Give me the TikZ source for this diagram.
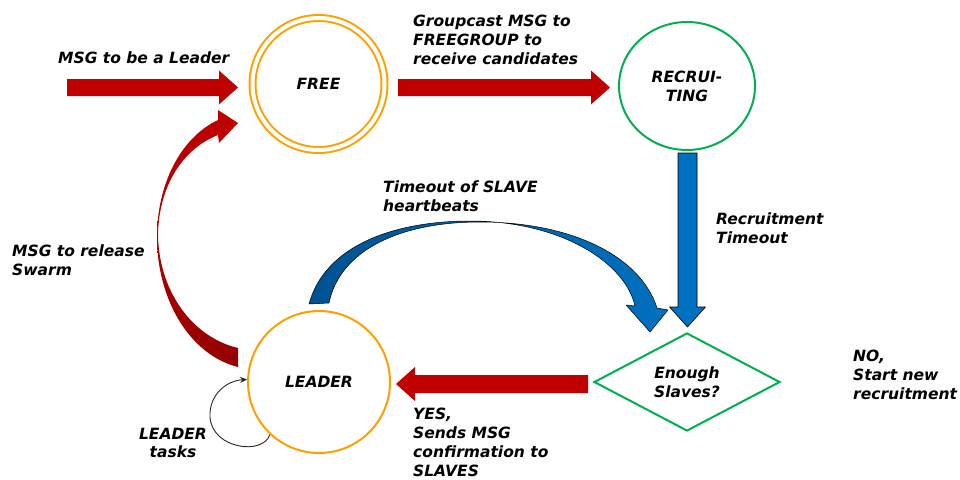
\documentclass[tikz,border=0pt]{standalone}
\usepackage{fontspec}
\setmainfont{DejaVu Sans}
\usetikzlibrary{shapes.geometric,calc,arrows.meta}

\definecolor{ringorange}{RGB}{255,160,0}
\definecolor{ringgreen}{RGB}{0,176,80}
\definecolor{msgred}{RGB}{192,0,0}
\definecolor{msgreddark}{RGB}{150,0,0}
\definecolor{flowblue}{RGB}{0,112,192}
\definecolor{flowbluedark}{RGB}{0,82,145}

% straight block arrow: [style]{start}{tip}{half shaft}{half head}{head length}
\newcommand\fatarrow[6][]{%
  \coordinate (fa-s) at #2;
  \coordinate (fa-e) at #3;
  \coordinate (fa-b) at ($(fa-e)!#6!(fa-s)$);
  \path[#1] ($(fa-s)!#4!90:(fa-e)$) -- ($(fa-b)!#4!90:(fa-e)$)
    -- ($(fa-b)!#5!90:(fa-e)$) -- (fa-e) -- ($(fa-b)!#5!-90:(fa-e)$)
    -- ($(fa-b)!#4!-90:(fa-e)$) -- ($(fa-s)!#4!-90:(fa-e)$) -- cycle;}

\begin{document}
\begin{tikzpicture}[x=1pt,y=-1pt,
  txt/.style={font=\fontsize{15.5}{18.9}\selectfont\bfseries\itshape},
  lbl/.style={txt, inner sep=0pt, align=left, anchor=north west},
  state/.style={circle, draw=ringorange, line width=2pt, inner sep=0pt, txt},
  redarrow/.style={fill=msgred},
  bluearrow/.style={fill=flowblue, draw=black, line width=0.6pt, line join=round},
  loopline/.style={draw=black!85, line width=0.9pt, -{Stealth[length=7pt,width=6pt]}}]

\useasboundingbox (0,0) rectangle (960,479);

% states
\node[state, minimum size=132pt, double=white, double distance=4pt] (free) at (318.5,84) {FREE};
\node[ellipse, draw=ringgreen, line width=2pt, minimum width=136pt, minimum height=128pt,
      inner sep=0pt, txt, align=center] (recruit) at (687,86) {RECRUI-\\TING};
\node[state, minimum size=142pt] (leader) at (319,382) {LEADER};
\node[diamond, draw=ringgreen, line width=2pt, minimum width=186pt, minimum height=98pt,
      inner sep=0pt, txt, align=center] (decide) at (687,382) {Enough\\Slaves?};

% incoming message
\coordinate (msgsrc) at (67,87.5);
\fatarrow[redarrow]{(msgsrc)}{($(free)+(-80.5,3.5)$)}{8.5pt}{17pt}{19pt}

% FREE -> RECRUITING
\fatarrow[redarrow]{($(free)+(79.5,3.5)$)}{($(recruit)+(-77,1.5)$)}{8.5pt}{17pt}{19pt}

% RECRUITING -> decision
\fatarrow[bluearrow]{($(recruit)+(0.5,67)$)}{($(decide)+(0.5,-55)$)}{9.5pt}{18pt}{20pt}

% decision -> LEADER
\fatarrow[redarrow]{($(decide)+(-99,2)$)}{($(leader)+(77,2)$)}{9pt}{17pt}{19pt}

% LEADER -> FREE (release swarm)
\shade[top color=msgred, bottom color=msgreddark]
  (238,367) .. controls (190,355) and (157,300) .. (157,237)
  .. controls (157,185) and (180,138) .. (218,120)
  -- (218,110) -- (238,123) -- (219,143) -- (218,135)
  .. controls (180,150) and (158,190) .. (158,237)
  .. controls (160,295) and (195,338) .. (238,348) -- cycle;

% LEADER -> decision (heartbeat timeout)
\shade[left color=flowbluedark, right color=flowblue, draw=black, line width=0.5pt, line join=round]
  (309,304) .. controls (325,245) and (395,221) .. (470,221)
  .. controls (560,221) and (625,262) .. (635,306)
  -- (626,305) -- (650,332) -- (668,310) -- (657,308)
  .. controls (640,255) and (570,222) .. (480,222)
  .. controls (400,222) and (340,250) .. (329,303) -- cycle;

% LEADER self loop
\coordinate (loopmid) at ($(leader)+(-109,35)$);
\draw[loopline] (leader.227) .. controls +(-7,21) and +(2,32) .. (loopmid)
  .. controls +(-1,-24) and +(-19,1) .. (leader.178);

% labels
\node[lbl] (lmsg) at (58,52) {MSG to be a Leader};
\node[lbl] (lgroup) at (413,15) {Groupcast MSG to\\FREEGROUP to\\receive candidates};
\node[lbl] (lhb) at (383,181) {Timeout of SLAVE\\heartbeats};
\node[lbl] (lrt) at (716,213) {Recruitment\\Timeout};
\node[lbl] (lrel) at (12,245) {MSG to release\\Swarm};
\node[txt, inner sep=0pt, align=center] (ltask) at (173,443) {LEADER\\tasks};
\node[lbl] (lno) at (853,350) {NO,\\Start new\\recruitment};
\node[lbl] (lyes) at (413,408) {YES,\\Sends MSG\\confirmation to\\SLAVES};

\end{tikzpicture}
\end{document}
